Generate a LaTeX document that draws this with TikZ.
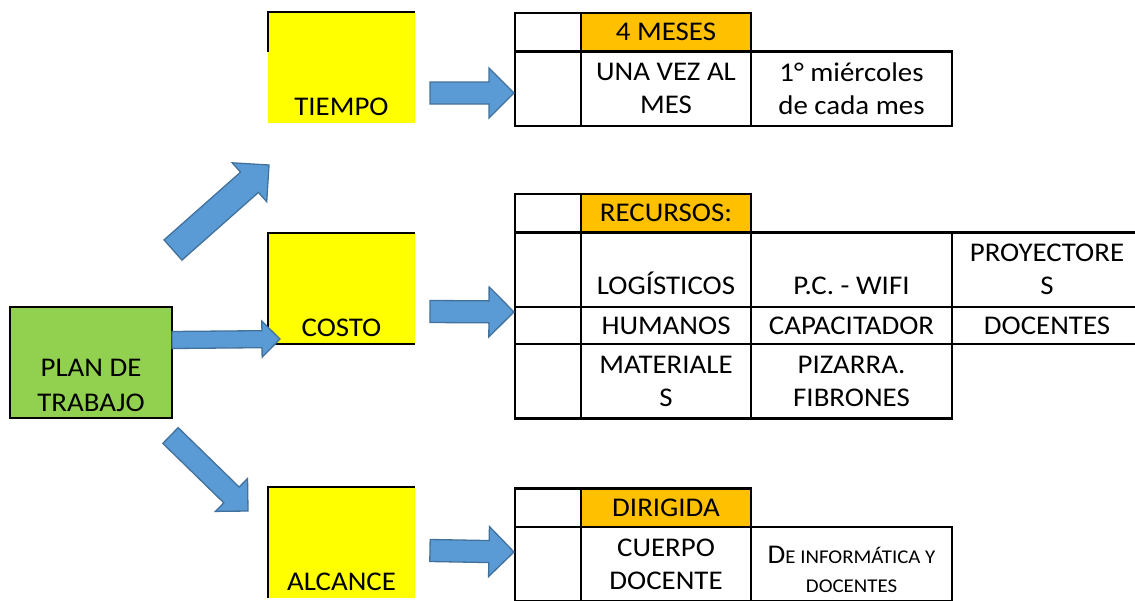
\documentclass[tikz,border=0pt]{standalone}
\usepackage{fontspec}
\setmainfont{Carlito}[FakeStretch=1.07]
\usetikzlibrary{positioning, calc}

\definecolor{plangreen}{HTML}{92D050}
\definecolor{boxyellow}{HTML}{FFFF00}
\definecolor{headorange}{HTML}{FFC000}
\definecolor{arrowblue}{HTML}{5B9BD5}
\definecolor{arrowedge}{HTML}{41719C}

\tikzset{
  blockarrow/.style 2 args={fill=arrowblue, draw=arrowedge, line width=1.3pt, line join=miter,
    to path={let \p1=($(\tikztotarget)-(\tikztostart)$), \n1={veclen(\x1,\y1)}, \n2={atan2(\y1,\x1)} in
      ($(\tikztostart)+({\n2+90}:#1)$) -- ++(\n2:{\n1-#2}) -- ++({\n2+90}:{#2-#1}) -- (\tikztotarget)
      -- ($(\tikztostart)+(\n2:{\n1-#2})+({\n2-90}:#2)$) -- ++({\n2+90}:{#2-#1})
      -- ($(\tikztostart)+({\n2-90}:#1)$) -- cycle}}
}

\begin{document}
\begin{tikzpicture}[x=1pt, y=-1pt, every node/.style={font=\fontsize{27}{33}\selectfont},
    cell/.style={draw, line width=2.6pt, inner sep=0pt, outer sep=0pt, align=center},
    c1/.style={minimum width=66pt}, c2/.style={minimum width=170pt},
    c3/.style={minimum width=201pt}, c4/.style={minimum width=190pt},
    head/.style={minimum height=38.5pt}, tall/.style={minimum height=74.5pt}, short/.style={minimum height=37pt},
    topic/.style={fill=boxyellow, inner sep=0pt, outer sep=0pt, minimum width=147pt, text height=103pt, text depth=8pt},
    gridline/.style={line width=2.6pt}]
        \useasboundingbox (0,0) rectangle (1135,600);

        % Plan
        \node (Plan) [draw, line width=2.6pt, fill=plangreen, inner sep=0pt, outer sep=0pt, minimum width=162pt, align=center,
            text height=104pt, text depth=7pt, font=\fontsize{27}{35}\selectfont] at (91,362.5) {PLAN DE\\TRABAJO};

        % Topics
        \node (Tiempo) [topic] at (341.5,67.5) {TIEMPO};
        \node (Costo) [topic, below=110pt of Tiempo] {COSTO};
        \node (Alcance) [topic, below=143pt of Costo] {ALCANCE};
        \draw[gridline] ([yshift=-40pt]Tiempo.north west) -- (Tiempo.north west) -- (Tiempo.north east);
        \draw[gridline] (Costo.north east) -- (Costo.north west) -- (Costo.south west) -- (Costo.south east);
        \draw[gridline] (Alcance.south west) -- (Alcance.north west) -- (Alcance.north east);

        % Tiempo table
        \node (TiH1) [cell, c1, head, anchor=north west] at (515,13) {};
        \node (TiH2) [cell, c2, head, fill=headorange, right=0pt of TiH1] {4 MESES};
        \node (TiR1) [cell, c1, tall, below=0pt of TiH1] {};
        \node (TiR2) [cell, c2, tall, right=0pt of TiR1] {UNA VEZ AL\\MES};
        \node (TiR3) [cell, c3, tall, right=0pt of TiR2] {1° miércoles\\de cada mes};

        % Costo table
        \node (CoH1) [cell, c1, head, anchor=north west] at (515,194) {};
        \node (CoH2) [cell, c2, head, fill=headorange, right=0pt of CoH1] {RECURSOS:};
        \node (CoA1) [cell, c1, tall, below=0pt of CoH1] {};
        \node (CoA2) [cell, c2, tall, right=0pt of CoA1] {\phantom{X}\\LOGÍSTICOS};
        \node (CoA3) [cell, c3, tall, right=0pt of CoA2] {\phantom{X}\\P.C. - WIFI};
        \node (CoA4) [cell, c4, tall, right=0pt of CoA3] {PROYECTORE\\S};
        \node (CoB1) [cell, c1, short, below=0pt of CoA1] {};
        \node (CoB2) [cell, c2, short, right=0pt of CoB1] {HUMANOS};
        \node (CoB3) [cell, c3, short, right=0pt of CoB2] {CAPACITADOR};
        \node (CoB4) [cell, c4, short, right=0pt of CoB3] {DOCENTES};
        \node (CoC1) [cell, c1, tall, below=0pt of CoB1] {};
        \node (CoC2) [cell, c2, tall, right=0pt of CoC1] {MATERIALE\\S};
        \node (CoC3) [cell, c3, tall, right=0pt of CoC2] {PIZARRA.\\FIBRONES};

        % Alcance table
        \node (AlH1) [cell, c1, head, anchor=north west] at (515,488.5) {};
        \node (AlH2) [cell, c2, head, fill=headorange, right=0pt of AlH1] {DIRIGIDA};
        \node (AlR1) [cell, c1, tall, below=0pt of AlH1] {};
        \node (AlR2) [cell, c2, tall, right=0pt of AlR1] {CUERPO\\DOCENTE};
        \node (AlR3) [cell, c3, tall, right=0pt of AlR2, text height=56pt, text depth=0pt, font=\fontsize{19.5}{29}\selectfont]
            {{\fontsize{27}{29}\selectfont D}E INFORMÁTICA Y\\DOCENTES};

        % Arrows
        \draw[blockarrow={13.5pt}{26pt}] ([shift={(1,-57)}]Plan.north east) to ([shift={(1,42)}]Tiempo.south west);
        \draw[blockarrow={8.5pt}{18pt}] ([shift={(0,-22.5)}]Plan.east) to ([shift={(12,-5)}]Costo.south west);
        \draw[blockarrow={11pt}{23pt}] ([shift={(-1.5,17.5)}]Plan.south east) to ([shift={(-20,24)}]Alcance.north west);
        \draw[blockarrow={11pt}{25pt}] ([shift={(15,25.5)}]Tiempo.east) to ([shift={(-1,4.25)}]TiR1.west);
        \draw[blockarrow={11pt}{25pt}] ([shift={(15,23)}]Costo.east) to ([shift={(-1,42.25)}]CoA1.west);
        \draw[blockarrow={11pt}{25pt}] ([shift={(15,8)}]Alcance.east) to ([shift={(-1,-12.25)}]AlR1.west);
    \end{tikzpicture}
\end{document}
